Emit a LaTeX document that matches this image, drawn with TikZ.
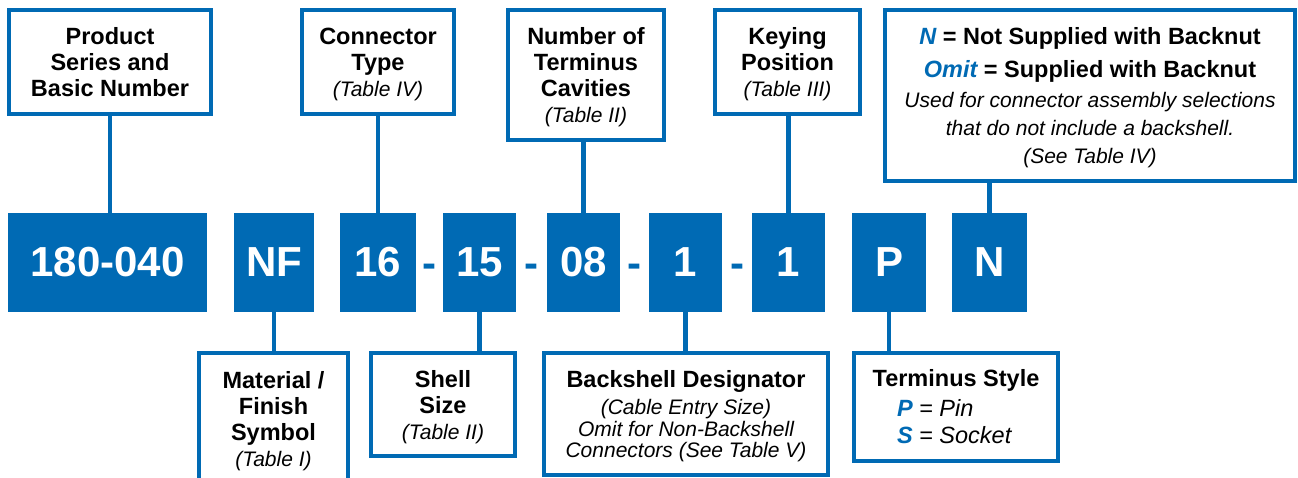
\documentclass[tikz,border=0pt]{standalone}
\usepackage{fontspec}
\setmainfont{Liberation Sans}
\definecolor{cblue}{RGB}{0,106,180}
\newcommand\bfbig{\fontsize{23.5}{26}\selectfont\bfseries\upshape}
\newcommand\itsm{\fontsize{21}{26}\selectfont\mdseries\itshape}
\newcommand\itmid{\fontsize{23.5}{26}\selectfont\mdseries\itshape}
\newcommand\nodp[1]{\raisebox{0pt}[\height][0pt]{#1}}
\begin{document}
\begin{tikzpicture}[x=1pt,y=-1pt,
  infobox/.style={draw=cblue, line width=4pt, fill=white, align=center, inner sep=0pt},
  codebox/.style={fill=cblue, text=white, inner sep=0pt, outer sep=0pt, minimum height=99pt,
    font=\fontsize{42}{42}\selectfont\bfseries},
  link/.style={draw=cblue, line width=4.5pt},
  sepmark/.style={text=cblue, inner sep=0pt, anchor=base, font=\fontsize{42}{42}\selectfont\bfseries}
]
\useasboundingbox (0,0) rectangle (1298,478);

% code boxes
\node[codebox, minimum width=199pt] (b1) at (107.5,262.5) {180-040};
\node[codebox, minimum width=80pt]  (b2) at (274,262.5) {NF};
\node[codebox, minimum width=76pt]  (b3) at (378,262.5) {16};
\node[codebox, minimum width=73pt]  (b4) at (479.5,262.5) {15};
\node[codebox, minimum width=73pt]  (b5) at (583.5,262.5) {08};
\node[codebox, minimum width=73pt]  (b6) at (685.5,262.5) {1};
\node[codebox, minimum width=73pt]  (b7) at (788.5,262.5) {1};
\node[codebox, minimum width=74pt]  (b8) at (889,262.5) {P};
\node[codebox, minimum width=75pt]  (b9) at (989.5,262.5) {N};

\node[sepmark] (d1) at (429.5,278) {-};
\node[sepmark] (d2) at (531.5,278) {-};
\node[sepmark] (d3) at (634.5,278) {-};
\node[sepmark] (d4) at (737,278) {-};

% upper info boxes
\node[infobox, minimum width=202pt, minimum height=104pt, font=\bfbig] (prod) at (110,62)
  {Product\\Series and\\Basic Number};
\node[infobox, minimum width=152pt, minimum height=104pt, font=\bfbig] (ctype) at (378,62)
  {Connector\\Type\\\itsm\nodp{(Table IV)}};
\node[infobox, minimum width=156pt, minimum height=130pt, font=\bfbig] (num) at (586,75)
  {Number of\\Terminus\\Cavities\\\itsm\nodp{(Table II)}};
\node[infobox, minimum width=145pt, minimum height=104pt, font=\bfbig] (key) at (787.5,62)
  {Keying\\Position\\\itsm\nodp{(Table III)}};
\node[infobox, minimum width=410pt, minimum height=171pt, font={\fontsize{21}{28}\selectfont}] (nbox) at (1090,95.5)
  {\bfbig\textcolor{cblue}{\itshape N} = Not Supplied with Backnut\\[5pt]
   \bfbig\textcolor{cblue}{\itshape Omit} = Supplied with Backnut\\[2.5pt]
   \itsm Used for connector assembly selections\\
   \itsm that do not include a backshell.\\
   \itsm\nodp{(See Table IV)}};

% lower info boxes
\node[infobox, minimum width=149pt, minimum height=131pt, font=\bfbig] (mat) at (273.5,418.5)
  {Material /\\Finish\\Symbol\\\itsm\nodp{(Table I)}};
\node[infobox, minimum width=144pt, minimum height=103pt, font=\bfbig] (shell) at (443,404.5)
  {Shell\\Size\\\itsm\nodp{(Table II)}};
\node[infobox, minimum width=284pt, minimum height=122pt, font={\fontsize{21}{21.5}\selectfont}] (back) at (686,414)
  {\bfbig Backshell Designator\\[5.5pt]
   \itsm (Cable Entry Size)\\
   \itsm Omit for Non-Backshell\\
   \itsm\nodp{Connectors (See Table V)}};
\node[infobox, minimum width=204pt, minimum height=108pt, font={\fontsize{21}{27}\selectfont\itshape}] (term) at (956,407)
  {\bfbig Terminus Style\\[3pt]
   \makebox[118pt][l]{\itmid\textcolor{cblue}{\bfseries P} = Pin}\\
   \makebox[118pt][l]{\itmid\textcolor{cblue}{\bfseries S} = Socket}};

% connectors
\draw[link] (prod.south) -- (prod.south |- b1.north);
\draw[link] (b3.north) -- (b3.north |- ctype.south);
\draw[link] (b5.north) -- (b5.north |- num.south);
\draw[link] (b7.north) -- (b7.north |- key.south);
\draw[link] (b9.north) -- (b9.north |- nbox.south);
\draw[link] (b2.south) -- (b2.south |- mat.north);
\draw[link] (b4.south) -- (b4.south |- shell.north);
\draw[link] (b6.south) -- (b6.south |- back.north);
\draw[link] (b8.south) -- (b8.south |- term.north);
\end{tikzpicture}
\end{document}
